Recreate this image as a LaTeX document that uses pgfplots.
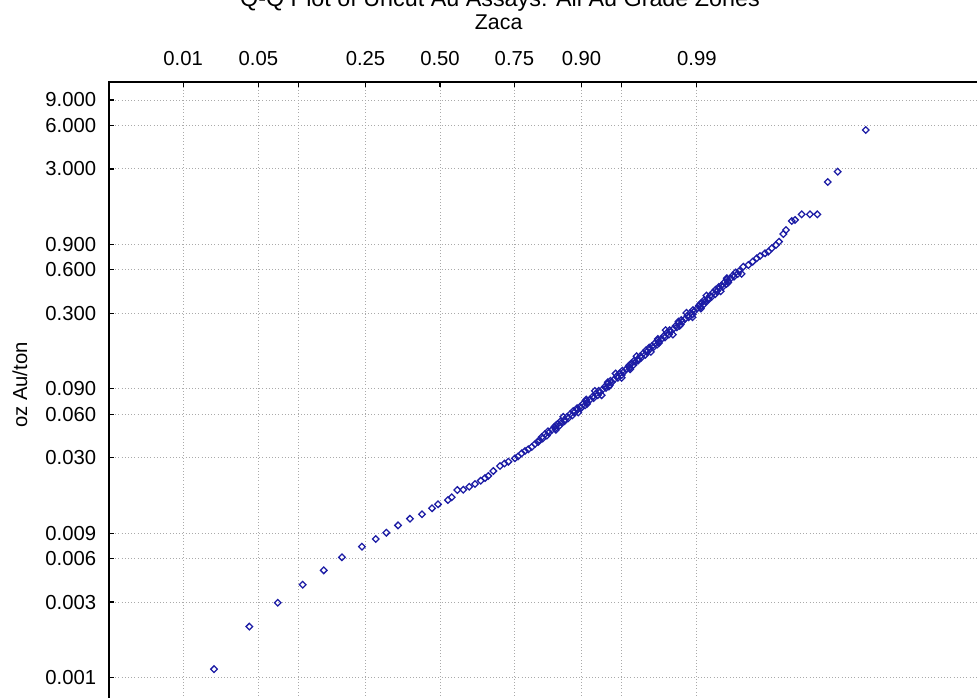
\documentclass[border=0pt]{standalone}
\usepackage{fontspec}
\setmainfont{Liberation Sans}
\usepackage{pgfplots}
\pgfplotsset{compat=1.18}
\definecolor{mk}{RGB}{28,28,165}
\definecolor{gridc}{RGB}{170,170,170}
\newcommand\fs{\fontsize{15.2}{18}\selectfont}
\newcommand\fst{\fontsize{17.5}{20}\selectfont}
\newcommand\fsz{\fontsize{16}{19}\selectfont}
\pgfplotsset{qqmark/.style={only marks, mark=square, mark size=1.75pt,
  mark options={rotate=45, draw=mk, line width=0.95pt, fill=none}}}
\begin{document}
\begin{tikzpicture}
\useasboundingbox (0,0) rectangle (732.75pt,523.5pt);
\clip (0,0) rectangle (732.75pt,523.5pt);
\begin{axis}[
  at={(81.6pt,462.04pt)}, anchor=north west,
  scale only axis, width=662.4pt, height=474.4pt,
  xmin=-3, xmax=5, ymode=log, ymin=0.0005, ymax=12,
  axis line style={line width=1.4pt, black},
  xtick={-2.3263,-1.6449,-1.2816,-0.6745,0,0.6745,1.2816,1.6449,2.3263},
  xticklabels={0.01,0.05,,0.25,0.50,0.75,0.90,,0.99},
  xtick pos=right, xticklabel pos=right,
  ytick={0.0009,0.003,0.006,0.009,0.03,0.06,0.09,0.3,0.6,0.9,3,6,9},
  yticklabels={0.001,0.003,0.006,0.009,0.030,0.060,0.090,0.300,0.600,0.900,3.000,6.000,9.000},
  ytick pos=left,
  minor tick num=0, log ticks with fixed point,
  tick align=inside, major tick length=4pt,
  tick style={black, line width=1pt},
  tick label style={font=\fs},
  xticklabel style={yshift=9pt},
  yticklabel style={xshift=-6pt},
  grid=major, grid style={dotted, gridc, line width=0.7pt},
]
\addplot[qqmark] table {
x y
-2.047 0.00103
-1.727 0.00203
-1.470 0.00297
-1.244 0.00396
-1.053 0.00498
-0.888 0.00613
-0.707 0.00726
-0.582 0.00820
-0.486 0.00907
-0.380 0.0102
-0.272 0.01134
-0.163 0.01217
-0.072 0.01339
-0.018 0.01427
0.072 0.01528
0.106 0.01596
0.157 0.01792
0.211 0.0180
0.265 0.01889
0.317 0.01972
0.369 0.02079
0.408 0.0217
0.4375 0.02241
0.483 0.02427
0.5435 0.02628
0.584 0.02735
0.619 0.02814
0.679 0.02972
0.7065 0.03059
0.740 0.03218
0.770 0.03337
0.800 0.03430
0.831 0.03557
0.8605 0.03733
0.888 0.03853
0.899 0.03981
0.930 0.04074
0.922 0.04169
0.968 0.04266
0.950 0.04365
0.986 0.04467
0.978 0.04571
1.014 0.04677
1.046 0.04786
1.037 0.04898
1.084 0.05012
1.065 0.05129
1.102 0.05248
1.093 0.05370
1.129 0.05495
1.161 0.05623
1.152 0.05754
1.199 0.05888
1.180 0.06026
1.217 0.06166
1.208 0.06310
1.245 0.06457
1.276 0.06607
1.268 0.06761
1.314 0.06918
1.296 0.07079
1.332 0.07244
1.324 0.07413
1.360 0.07586
1.392 0.07762
1.383 0.07943
1.429 0.08128
1.411 0.08318
1.447 0.08511
1.438 0.08710
1.473 0.08913
1.504 0.09120
1.494 0.09333
1.539 0.09550
1.520 0.09772
1.555 0.1000
1.545 0.1023
1.580 0.1047
1.611 0.1072
1.601 0.1096
1.646 0.1122
1.626 0.1148
1.662 0.1175
1.652 0.1202
1.687 0.1230
1.717 0.1259
1.708 0.1288
1.753 0.1318
1.733 0.1349
1.769 0.1380
1.759 0.1413
1.794 0.1445
1.824 0.1479
1.815 0.1514
1.860 0.1549
1.840 0.1585
1.875 0.1622
1.866 0.1660
1.901 0.1698
1.931 0.1738
1.921 0.1778
1.967 0.1820
1.947 0.1862
1.982 0.1905
1.973 0.1950
2.008 0.1995
2.038 0.2042
2.028 0.2089
2.074 0.2138
2.054 0.2188
2.089 0.2239
2.079 0.2291
2.115 0.2344
2.145 0.2399
2.135 0.2455
2.180 0.2512
2.161 0.2570
2.196 0.2630
2.186 0.2692
2.222 0.2754
2.252 0.2818
2.242 0.2884
2.287 0.2951
2.268 0.3020
2.303 0.3090
2.292 0.3162
2.327 0.3236
2.357 0.3311
2.346 0.3388
2.391 0.3467
2.370 0.3548
2.405 0.3631
2.395 0.3715
2.429 0.3802
2.459 0.3890
2.448 0.3981
2.493 0.4074
2.472 0.4169
2.507 0.4266
2.497 0.4365
2.531 0.4467
2.561 0.4571
2.550 0.4677
2.595 0.4786
2.575 0.4898
2.609 0.5012
2.599 0.5129
2.633 0.5248
2.663 0.5370
2.653 0.5495
2.697 0.5623
2.677 0.5754
2.711 0.5888
2.747 0.6305
2.793 0.6479
2.832 0.6831
2.869 0.7211
2.899 0.7480
2.944 0.7807
2.974 0.8009
3.005 0.8457
3.043 0.8914
3.071 0.9395
3.110 1.062
3.134 1.132
3.186 1.307
3.216 1.328
3.276 1.454
3.351 1.454
3.418 1.454
3.512 2.434
3.602 2.869
3.856 5.577
};
% overlapping points that thicken the dense band
\addplot[qqmark] table {
x y
1.049 0.04677
1.049 0.05012
1.128 0.05370
1.117 0.05754
1.252 0.06166
1.241 0.06607
1.331 0.07079
1.325 0.07586
1.464 0.08128
1.403 0.08710
1.529 0.09333
1.520 0.1000
1.646 0.1072
1.591 0.1148
1.722 0.1230
1.718 0.1318
1.794 0.1413
1.780 0.1514
1.910 0.1622
1.896 0.1738
1.982 0.1862
1.973 0.1995
2.109 0.2138
2.044 0.2291
2.170 0.2455
2.161 0.2630
2.287 0.2818
2.233 0.3020
2.362 0.3236
2.356 0.3467
2.430 0.3715
2.413 0.3981
2.542 0.4266
2.526 0.4571
2.610 0.4898
2.598 0.5248
2.732 0.5623
};
\end{axis}
\node[anchor=base, font=\fst] at (375pt,518.25pt) {Q-Q Plot of Uncut Au Assays: All Au Grade Zones};
\node[anchor=base, font=\fsz] at (374pt,501pt) {Zaca};
\node[rotate=90, font=\fs] at (15pt,234.75pt) {oz Au/ton};
\end{tikzpicture}
\end{document}
